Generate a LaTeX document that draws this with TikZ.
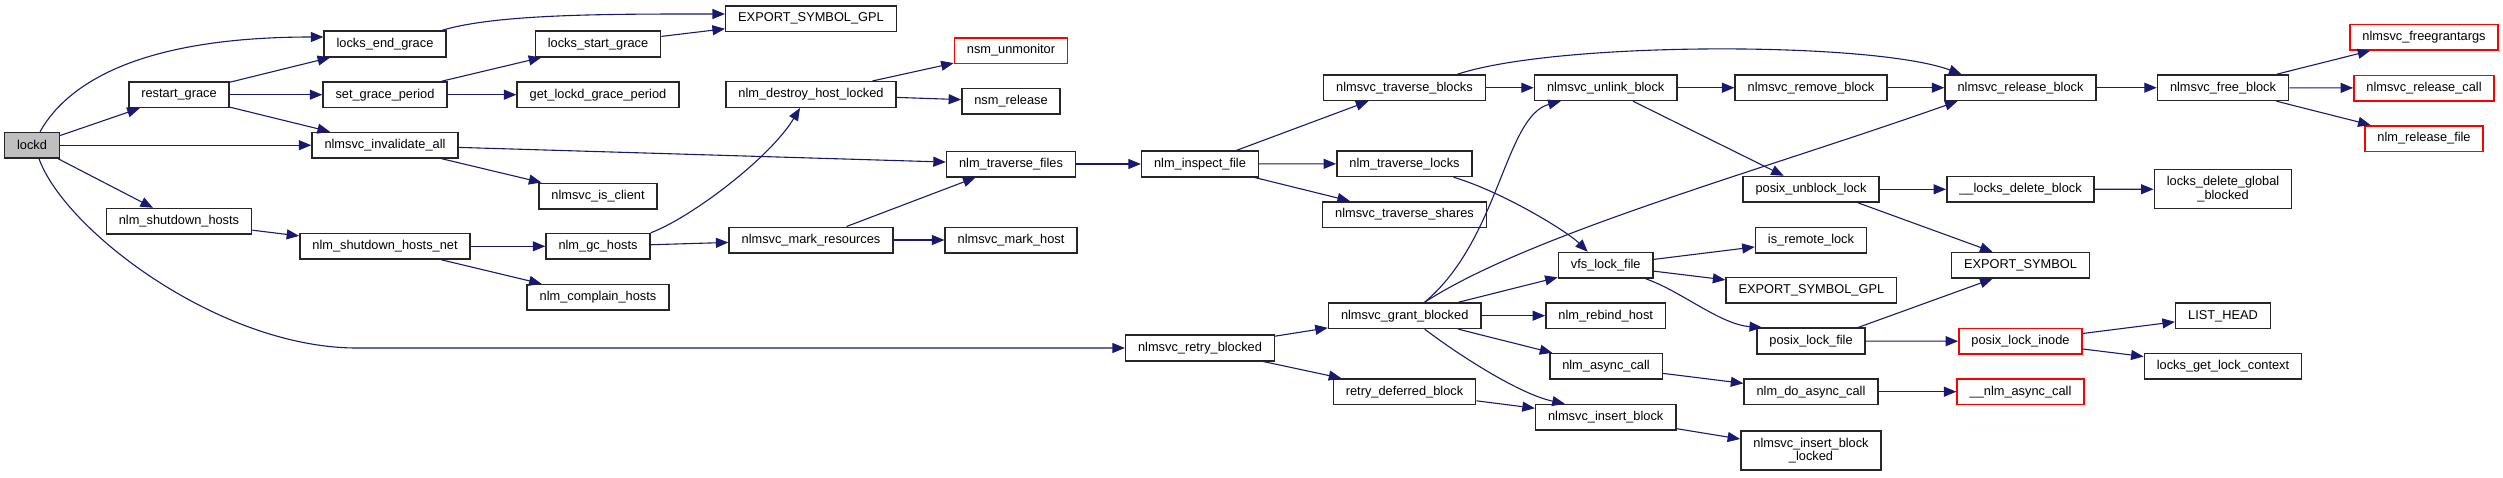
\documentclass[tikz,border=0pt]{standalone}
\usepackage{fontspec}
\setmainfont{Liberation Sans}
\definecolor{link}{RGB}{25, 25, 112}
\definecolor{missing}{RGB}{255, 0, 0}
\definecolor{root}{RGB}{191, 191, 191}
\usetikzlibrary{arrows.meta, calc}

\begin{document}
\begin{tikzpicture}[x=1pt, y=-1pt,
        fn/.style={draw=black!85, fill=white, line width=1.5pt, inner xsep=12.5pt, inner ysep=6.8pt, minimum height=25.5pt, align=center, font=\fontsize{12.8}{13.5}\selectfont},
        undoc/.style={fn, draw=missing},
        rootfn/.style={fn, fill=root},
        callarr/.style={-{Triangle[length=12.5pt, width=10pt]}, line width=1.1pt, link}
    ]
        \useasboundingbox (0,0) rectangle (2503,477);
        % columns, left to right
        \node[rootfn] (lockd) at (32,145.2) {lockd};
        \node[fn] (restart) at (179,94.7) {restart\_grace};
        \node[fn] (shutdown) at (179,221.3) {nlm\_shutdown\_hosts};
        \node[fn] (endgrace) at (385,44) {locks\_end\_grace};
        \node[fn] (setgrace) at (385,94.7) {set\_grace\_period};
        \node[fn] (invalall) at (385,145.2) {nlmsvc\_invalidate\_all};
        \node[fn] (shutnet) at (385,246.3) {nlm\_shutdown\_hosts\_net};
        \node[fn] (startgrace) at (598,44) {locks\_start\_grace};
        \node[fn] (getgrace) at (598,94.7) {get\_lockd\_grace\_period};
        \node[fn] (isclient) at (598,196) {nlmsvc\_is\_client};
        \node[fn] (gchosts) at (598,246.3) {nlm\_gc\_hosts};
        \node[fn] (complain) at (598,297.3) {nlm\_complain\_hosts};
        \node[fn] (gplA) at (811,18.5) {EXPORT\_SYMBOL\_GPL};
        \node[fn] (destroy) at (811,94.5) {nlm\_destroy\_host\_locked};
        \node[fn] (markres) at (811,240) {nlmsvc\_mark\_resources};
        \node[undoc] (unmon) at (1011,50.5) {nsm\_unmonitor};
        \node[fn] (nsmrel) at (1011,101.3) {nsm\_release};
        \node[fn] (travfiles) at (1011,164) {nlm\_traverse\_files};
        \node[fn] (markhost) at (1011,240) {nlmsvc\_mark\_host};
        \node[fn] (inspect) at (1200,164) {nlm\_inspect\_file};
        \node[fn] (retry) at (1200,348) {nlmsvc\_retry\_blocked};
        \node[fn] (travblocks) at (1404.5,87.7) {nlmsvc\_traverse\_blocks};
        \node[fn] (travlocks) at (1404.5,163.7) {nlm\_traverse\_locks};
        \node[fn] (travshares) at (1404.5,214.5) {nlmsvc\_traverse\_shares};
        \node[fn] (grant) at (1404.7,315.7) {nlmsvc\_grant\_blocked};
        \node[fn] (deferred) at (1404.5,391.7) {retry\_deferred\_block};
        \node[fn] (unlink) at (1605.7,87.7) {nlmsvc\_unlink\_block};
        \node[fn] (vfs) at (1605.7,265.3) {vfs\_lock\_file};
        \node[fn] (rebind) at (1605.7,315.7) {nlm\_rebind\_host};
        \node[fn] (async) at (1606,366.3) {nlm\_async\_call};
        \node[fn] (insert) at (1605.7,417.2) {nlmsvc\_insert\_block};
        \node[fn] (remove) at (1811,87.7) {nlmsvc\_remove\_block};
        \node[fn] (unblock) at (1811,189.3) {posix\_unblock\_lock};
        \node[fn] (remote) at (1811,240) {is\_remote\_lock};
        \node[fn] (gplB) at (1811.4,290.3) {EXPORT\_SYMBOL\_GPL};
        \node[fn] (plock) at (1811,341) {posix\_lock\_file};
        \node[fn] (doasync) at (1811,391.7) {nlm\_do\_async\_call};
        \node[fn] (insertlk) at (1811,450.5) {nlmsvc\_insert\_block\\\_locked};
        \node[fn] (release) at (2020.5,87.7) {nlmsvc\_release\_block};
        \node[fn] (delblock) at (2020.5,189.3) {\_\_locks\_delete\_block};
        \node[fn] (expsym) at (2020.5,265.3) {EXPORT\_SYMBOL};
        \node[undoc] (pinode) at (2020.5,341.3) {posix\_lock\_inode};
        \node[undoc] (nlmasync) at (2020.5,391.7) {\_\_nlm\_async\_call};
        \node[fn] (free) at (2223,87.7) {nlmsvc\_free\_block};
        \node[fn] (delglobal) at (2223,189.2) {locks\_delete\_global\\\_blocked};
        \node[fn] (listhead) at (2223,315.8) {LIST\_HEAD};
        \node[fn] (getctx) at (2223,366.3) {locks\_get\_lock\_context};
        \node[undoc] (freeargs) at (2424,37.2) {nlmsvc\_freegrantargs};
        \node[undoc] (relcall) at (2424,88) {nlmsvc\_release\_call};
        \node[undoc] (relfile) at (2424,138.5) {nlm\_release\_file};

        % calls out of lockd
        \draw[callarr] ([xshift=8pt]lockd.north) .. controls +(30,-53) and +(-175,0) .. ([yshift=7pt]endgrace.west);
        \draw[callarr] (lockd) -- (restart);
        \draw[callarr] (lockd) -- (invalall);
        \draw[callarr] (lockd) -- (shutdown);
        \draw[callarr] ([xshift=7pt]lockd.south) .. controls +(26,72) and +(-137,0) .. ([xshift=-768pt]retry.west) -- (retry.west);
        \draw[callarr] (restart) -- (endgrace);
        \draw[callarr] (restart) -- (setgrace);
        \draw[callarr] (restart) -- (invalall);
        \draw[callarr] (shutdown) -- (shutnet);
        \draw[callarr] ([xshift=-5pt]endgrace.north east) .. controls +(55,-17) and +(-110,0) .. ([yshift=4.5pt]gplA.west);
        \draw[callarr] (setgrace) -- (startgrace);
        \draw[callarr] (setgrace) -- (getgrace);
        \draw[callarr] (startgrace) -- (gplA);
        \draw[callarr] (invalall) -- (travfiles);
        \draw[callarr] (invalall) -- (isclient);
        \draw[callarr] (shutnet) -- (gchosts);
        \draw[callarr] (shutnet) -- (complain);
        \draw[callarr] (gchosts.north east) .. controls +(40,-15) and +(-30,50) .. ([xshift=-11pt]destroy.south);
        \draw[callarr] (gchosts) -- (markres);
        \draw[callarr] (destroy) -- (unmon);
        \draw[callarr] (destroy) -- (nsmrel);
        \draw[callarr] (markres) -- (travfiles);
        \draw[callarr] (markres) -- (markhost);
        \draw[callarr] (travfiles) -- (inspect);
        \draw[callarr] (inspect) -- (travblocks);
        \draw[callarr] (inspect) -- (travlocks);
        \draw[callarr] (inspect) -- (travshares);
        \draw[callarr] (retry) -- (grant);
        \draw[callarr] (retry) -- (deferred);
        % middle block
        \draw[callarr] (travblocks) -- (unlink);
        \draw[callarr] ([xshift=53pt]travblocks.north) .. controls +(100,-33) and +(-90,-33) .. ([xshift=-59pt]release.north);
        \draw[callarr] ([xshift=49pt]travlocks.south) .. controls +(50,15) and +(-20,-20) .. ([xshift=-18pt]vfs.north);
        \draw[callarr] ([xshift=20pt]grant.north) .. controls +(75,-63) and +(-56,15) .. ([xshift=-45pt]unlink.south);
        \draw[callarr] ([xshift=20pt]grant.north) .. controls +(105,-68) and +(-198,70) .. ([xshift=-63pt]release.south);
        \draw[callarr] (grant) -- (vfs);
        \draw[callarr] (grant) -- (rebind);
        \draw[callarr] (grant) -- (async);
        \draw[callarr] ([xshift=20pt]grant.south) .. controls +(35,26.5) and +(-45,-9.5) .. ([xshift=-41pt]insert.north);
        \draw[callarr] (deferred) -- (insert);
        \draw[callarr] (unlink) -- (remove);
        \draw[callarr] (unlink) -- (unblock);
        \draw[callarr] (vfs) -- (remote);
        \draw[callarr] (vfs) -- (gplB);
        \draw[callarr] ([xshift=40pt]vfs.south) .. controls +(35,12) and +(-42,-3) .. ([xshift=-49pt]plock.north);
        \draw[callarr] (async) -- (doasync);
        \draw[callarr] (insert) -- (insertlk);
        % right block
        \draw[callarr] (remove) -- (release);
        \draw[callarr] (unblock) -- (delblock);
        \draw[callarr] ([xshift=47pt]unblock.south) -- ([xshift=-28pt]expsym.north);
        \draw[callarr] ([xshift=47pt]plock.north) -- ([xshift=-28pt]expsym.south);
        \draw[callarr] (plock) -- (pinode);
        \draw[callarr] (doasync) -- (nlmasync);
        \draw[callarr] (release) -- (free);
        \draw[callarr] (free) -- (freeargs);
        \draw[callarr] (free) -- (relcall);
        \draw[callarr] (free) -- (relfile);
        \draw[callarr] (delblock) -- (delglobal);
        \draw[callarr] (pinode) -- (listhead);
        \draw[callarr] (pinode) -- (getctx);
    \end{tikzpicture}
\end{document}
